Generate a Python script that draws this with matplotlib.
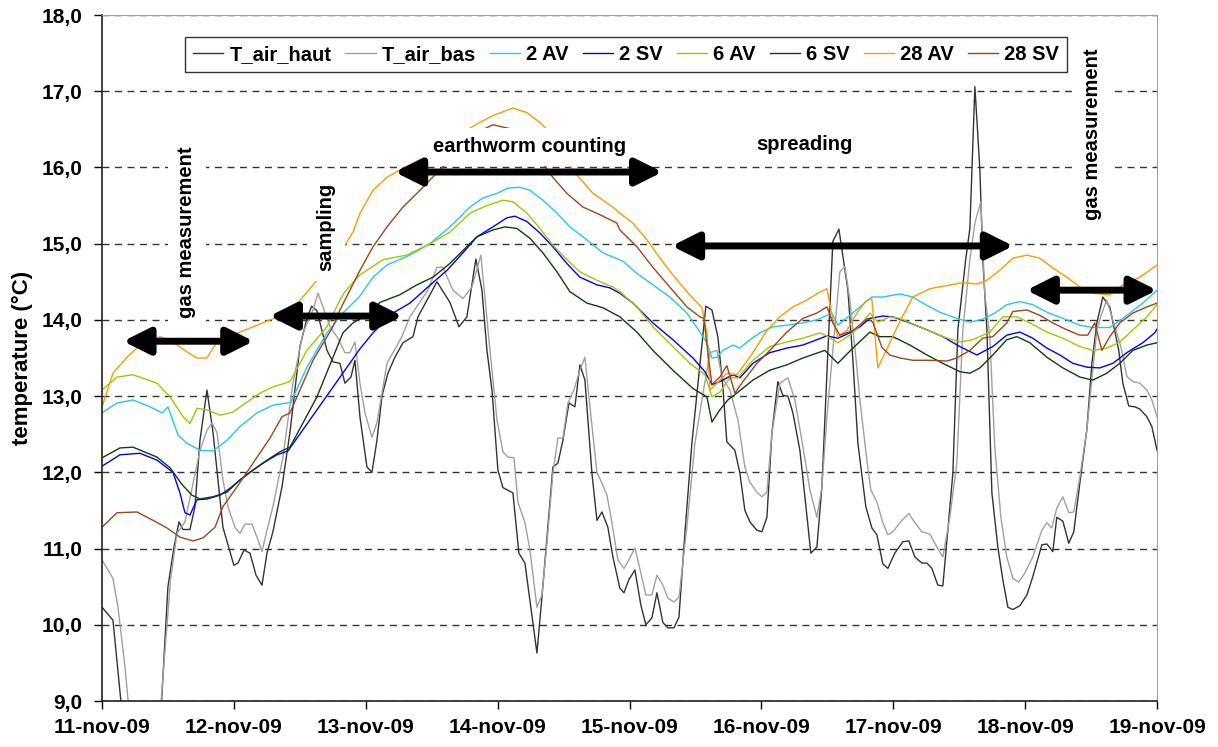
import matplotlib
matplotlib.use('Agg')
import matplotlib.pyplot as plt

plt.rcParams['font.family'] = ['Liberation Sans', 'DejaVu Sans']
plt.rcParams['font.weight'] = 'bold'

# x = days after 11-nov-09 00:00, y = temperature in degC
day_labels = ["11-nov-09", "12-nov-09", "13-nov-09", "14-nov-09", "15-nov-09",
              "16-nov-09", "17-nov-09", "18-nov-09", "19-nov-09"]

haut_t = [0, 0.083, 0.2, 0.42, 0.5, 0.546, 0.584, 0.614, 0.667, 0.705, 0.743, 0.796, 0.842, 0.917,
          1.0, 1.031, 1.077, 1.122, 1.168, 1.213, 1.251, 1.296, 1.365, 1.425, 1.501, 1.554, 1.59, 1.63,
          1.706, 1.751, 1.804, 1.842, 1.888, 1.918, 1.956, 2.009, 2.047, 2.085, 2.123, 2.168, 2.221,
          2.282, 2.358, 2.396, 2.54, 2.638, 2.707, 2.767, 2.835, 2.881, 2.919, 2.957, 3.002, 3.04,
          3.116, 3.161, 3.207, 3.298, 3.336, 3.374, 3.419, 3.457, 3.495, 3.541, 3.586, 3.624, 3.662,
          3.715, 3.753, 3.791, 3.836, 3.874, 3.927, 3.958, 3.995, 4.041, 4.086, 4.124, 4.17, 4.208,
          4.253, 4.291, 4.337, 4.375, 4.42, 4.473, 4.579, 4.625, 4.67, 4.708, 4.738, 4.799, 4.837,
          4.875, 4.913, 4.966, 5.004, 5.042, 5.08, 5.125, 5.163, 5.201, 5.239, 5.292, 5.33, 5.375,
          5.421, 5.459, 5.497, 5.542, 5.588, 5.656, 5.694, 5.732, 5.792, 5.838, 5.876, 5.921, 5.959,
          6.012, 6.073, 6.118, 6.164, 6.217, 6.255, 6.293, 6.338, 6.376, 6.414, 6.452, 6.49, 6.55,
          6.581, 6.619, 6.657, 6.679, 6.71, 6.748, 6.793, 6.831, 6.869, 6.907, 6.96, 7.013, 7.058,
          7.127, 7.165, 7.21, 7.24, 7.286, 7.331, 7.369, 7.415, 7.468, 7.506, 7.544, 7.589, 7.642,
          7.71, 7.741, 7.786, 7.832, 7.87, 7.923, 7.961, 8.0]
haut_v = [10.23, 10.06, 8.0, 8.0, 10.5, 11.02, 11.35, 11.25, 11.25, 11.55, 12.42, 13.08, 12.52, 11.28,
          10.78, 10.81, 10.98, 10.94, 10.65, 10.52, 10.94, 11.22, 11.81, 12.52, 13.65, 14.02, 14.18, 14.12,
          13.6, 13.45, 13.43, 13.17, 13.25, 13.47, 12.73, 12.07, 12.0, 12.42, 13.0, 13.3, 13.51,
          13.7, 13.78, 14.04, 14.5, 14.23, 13.91, 14.04, 14.8, 14.39, 13.6, 13.08, 12.03, 11.8,
          11.73, 10.94, 10.81, 9.63, 10.36, 11.15, 12.07, 12.12, 12.42, 12.91, 12.86, 13.41, 13.21,
          11.99, 11.37, 11.48, 11.28, 10.89, 10.48, 10.42, 10.59, 10.72, 10.26, 10.0, 10.09, 10.42,
          10.03, 9.96, 9.96, 10.1, 11.2, 12.38, 14.18, 14.13, 13.78, 13.12, 12.4, 12.29, 11.99,
          11.5, 11.35, 11.24, 11.22, 11.41, 12.52, 13.19, 13.01, 13.0, 12.78, 12.29, 11.68, 10.94,
          11.02, 11.81, 13.3, 15.03, 15.19, 14.39, 13.47, 12.38, 11.55, 11.27, 11.18, 10.8, 10.74,
          10.94, 11.09, 11.1, 10.89, 10.81, 10.81, 10.74, 10.52, 10.51, 11.24, 11.99, 13.87, 14.8,
          15.2, 17.06, 15.97, 14.79, 13.87, 11.73, 11.02, 10.59, 10.23, 10.2, 10.25, 10.39, 10.63,
          11.05, 11.06, 10.96, 11.41, 11.36, 11.07, 11.22, 11.86, 12.56, 13.43, 13.96, 14.3, 14.17,
          13.6, 13.17, 12.87, 12.86, 12.83, 12.73, 12.6, 12.29]

bas_t = [0, 0.083, 0.121, 0.174, 0.22, 0.43, 0.52, 0.569, 0.629, 0.743, 0.796, 0.834, 0.872, 0.917,
         0.955, 1.008, 1.046, 1.084, 1.137, 1.175, 1.213, 1.251, 1.296, 1.372, 1.448, 1.524, 1.6,
         1.638, 1.729, 1.789, 1.842, 1.88, 1.918, 1.956, 1.994, 2.047, 2.085, 2.123, 2.161, 2.206,
         2.274, 2.335, 2.472, 2.54, 2.585, 2.661, 2.737, 2.805, 2.873, 2.942, 2.995, 3.04, 3.078,
         3.124, 3.154, 3.207, 3.245, 3.298, 3.336, 3.374, 3.419, 3.457, 3.495, 3.533, 3.578, 3.624,
         3.662, 3.7, 3.753, 3.791, 3.829, 3.867, 3.912, 3.958, 3.995, 4.041, 4.086, 4.124, 4.17,
         4.208, 4.253, 4.291, 4.337, 4.375, 4.435, 4.496, 4.549, 4.61, 4.663, 4.701, 4.761, 4.822,
         4.875, 4.913, 4.966, 5.004, 5.042, 5.08, 5.14, 5.201, 5.254, 5.307, 5.368, 5.421, 5.459,
         5.497, 5.595, 5.633, 5.671, 5.724, 5.747, 5.8, 5.83, 5.876, 5.921, 5.959, 5.997, 6.065,
         6.118, 6.164, 6.217, 6.278, 6.331, 6.376, 6.429, 6.482, 6.528, 6.581, 6.619, 6.664, 6.694,
         6.732, 6.77, 6.816, 6.861, 6.907, 6.952, 6.998, 7.058, 7.127, 7.165, 7.202, 7.24, 7.286,
         7.331, 7.369, 7.415, 7.468, 7.513, 7.544, 7.582, 7.619, 7.665, 7.726, 7.771, 7.817, 7.87,
         7.923, 7.961, 8.0]
bas_v = [10.85, 10.61, 10.23, 9.45, 8.6, 8.6, 10.6, 11.2, 11.35, 12.29, 12.55, 12.65, 12.52, 11.9,
         11.55, 11.28, 11.2, 11.32, 11.32, 11.15, 10.96, 11.24, 11.55, 12.2, 13.17, 13.83, 14.13,
         14.35, 13.91, 13.76, 13.57, 13.57, 13.71, 13.17, 12.78, 12.46, 12.65, 13.04, 13.43, 13.57,
         13.78, 14.04, 14.39, 14.69, 14.69, 14.39, 14.28, 14.43, 14.85, 13.6, 12.69, 12.27, 12.2,
         12.19, 11.61, 11.34, 10.98, 10.23, 10.39, 11.07, 11.99, 12.45, 12.45, 12.91, 13.08, 13.34,
         13.51, 12.86, 12.0, 11.86, 11.7, 11.34, 10.85, 10.74, 10.85, 11.01, 10.68, 10.39, 10.39,
         10.65, 10.52, 10.35, 10.3, 10.36, 11.28, 12.38, 12.95, 13.57, 13.6, 13.25, 13.08, 12.69,
         12.07, 11.87, 11.74, 11.68, 11.74, 12.52, 13.17, 13.24, 12.95, 12.42, 11.77, 11.41, 11.81,
         12.73, 14.63, 14.7, 14.26, 13.38, 12.95, 12.16, 11.77, 11.61, 11.34, 11.18, 11.22, 11.37,
         11.46, 11.34, 11.22, 11.19, 11.02, 10.89, 11.41, 12.12, 13.87, 14.79, 15.27, 15.55, 14.35,
         13.78, 12.33, 11.41, 10.89, 10.61, 10.56, 10.68, 10.89, 11.24, 11.34, 11.27, 11.53, 11.68,
         11.47, 11.48, 11.94, 12.56, 13.34, 13.87, 14.09, 14.26, 14.0, 13.65, 13.26, 13.19, 13.17,
         13.08, 12.95, 12.73]

av2_t = [0, 0.114, 0.235, 0.364, 0.455, 0.5, 0.576, 0.644, 0.743, 0.842, 0.948, 1.046, 1.175, 1.296,
         1.403, 1.433, 1.554, 1.706, 1.827, 1.95, 2.055, 2.161, 2.335, 2.487, 2.638, 2.79, 2.889,
         2.995, 3.078, 3.169, 3.245, 3.343, 3.45, 3.548, 3.677, 3.798, 3.95, 4.056, 4.177, 4.306,
         4.435, 4.534, 4.587, 4.625, 4.663, 4.708, 4.784, 4.837, 4.913, 4.989, 5.087, 5.193, 5.315,
         5.421, 5.535, 5.58, 5.671, 5.747, 5.838, 5.921, 6.05, 6.149, 6.224, 6.353, 6.482, 6.581,
         6.679, 6.77, 6.861, 6.96, 7.058, 7.165, 7.286, 7.415, 7.513, 7.642, 7.741, 7.892, 8.0]
av2_v = [12.78, 12.91, 12.95, 12.86, 12.78, 12.86, 12.49, 12.38, 12.29, 12.28, 12.42, 12.6, 12.78, 12.88,
         12.91, 12.92, 13.38, 13.83, 14.09, 14.3, 14.56, 14.72, 14.85, 15.0, 15.22, 15.48, 15.6,
         15.66, 15.73, 15.74, 15.7, 15.57, 15.4, 15.22, 15.05, 14.88, 14.77, 14.61, 14.46, 14.3,
         14.09, 13.84, 13.7, 13.5, 13.51, 13.6, 13.67, 13.63, 13.74, 13.83, 13.91, 13.93, 13.96,
         14.0, 14.09, 13.93, 14.06, 14.17, 14.3, 14.3, 14.34, 14.3, 14.22, 14.1, 14.02, 13.97,
         14.01, 14.09, 14.2, 14.24, 14.2, 14.1, 14.02, 13.93, 13.9, 13.9, 14.02, 14.22, 14.39]

sv2_t = [0, 0.136, 0.288, 0.417, 0.538, 0.591, 0.629, 0.667, 0.72, 0.796, 0.895, 0.97, 1.046, 1.122,
         1.221, 1.327, 1.41, 1.956, 2.055, 2.206, 2.335, 2.464, 2.616, 2.737, 2.843, 2.964, 3.071,
         3.131, 3.222, 3.321, 3.419, 3.525, 3.624, 3.753, 3.851, 3.927, 4.026, 4.177, 4.329, 4.481,
         4.572, 4.625, 4.685, 4.784, 4.837, 4.936, 5.064, 5.193, 5.315, 5.421, 5.497, 5.58, 5.671,
         5.747, 5.823, 5.921, 5.997, 6.126, 6.255, 6.376, 6.505, 6.634, 6.755, 6.861, 6.96, 7.058,
         7.165, 7.263, 7.362, 7.468, 7.566, 7.665, 7.771, 7.892, 7.983, 8.0]
sv2_v = [12.08, 12.23, 12.25, 12.16, 12.0, 11.73, 11.47, 11.44, 11.64, 11.65, 11.7, 11.79, 11.9, 12.0,
         12.12, 12.23, 12.28, 13.62, 13.83, 14.09, 14.22, 14.42, 14.65, 14.88, 15.09, 15.22, 15.34,
         15.36, 15.29, 15.14, 14.96, 14.74, 14.56, 14.46, 14.42, 14.35, 14.22, 13.96, 13.74, 13.5,
         13.32, 13.15, 13.19, 13.28, 13.24, 13.43, 13.57, 13.63, 13.67, 13.74, 13.79, 13.76, 13.83,
         13.91, 14.02, 14.05, 14.04, 13.96, 13.87, 13.78, 13.65, 13.54, 13.65, 13.8, 13.84, 13.76,
         13.63, 13.54, 13.43, 13.38, 13.37, 13.43, 13.57, 13.7, 13.83, 13.88]

av6_t = [0, 0.114, 0.235, 0.417, 0.516, 0.614, 0.667, 0.72, 0.796, 0.895, 0.993, 1.099, 1.198, 1.296,
         1.425, 1.554, 1.706, 1.804, 1.842, 1.956, 2.13, 2.312, 2.487, 2.638, 2.79, 2.919, 3.04,
         3.116, 3.222, 3.321, 3.419, 3.525, 3.624, 3.753, 3.874, 3.927, 4.056, 4.177, 4.329, 4.458,
         4.572, 4.625, 4.685, 4.761, 4.822, 4.936, 5.064, 5.193, 5.315, 5.444, 5.504, 5.58, 5.671,
         5.747, 5.823, 5.883, 5.974, 6.05, 6.255, 6.376, 6.505, 6.603, 6.732, 6.831, 6.937, 7.036,
         7.165, 7.286, 7.415, 7.513, 7.619, 7.718, 7.817, 7.923, 8.0]
av6_v = [13.08, 13.25, 13.28, 13.17, 12.99, 12.73, 12.64, 12.84, 12.82, 12.75, 12.79, 12.92, 13.04, 13.12,
         13.19, 13.6, 13.91, 14.26, 14.37, 14.59, 14.79, 14.85, 15.0, 15.15, 15.4, 15.5, 15.57,
         15.55, 15.4, 15.2, 14.98, 14.79, 14.63, 14.52, 14.43, 14.37, 14.17, 13.91, 13.65, 13.43,
         13.28, 12.99, 13.05, 13.24, 13.24, 13.47, 13.65, 13.71, 13.76, 13.83, 13.78, 13.7, 13.8,
         13.93, 14.09, 13.97, 14.04, 14.02, 13.87, 13.78, 13.71, 13.74, 13.84, 14.04, 14.04, 13.96,
         13.84, 13.76, 13.65, 13.6, 13.63, 13.71, 13.87, 14.04, 14.2]

sv6_t = [0, 0.136, 0.235, 0.417, 0.516, 0.607, 0.682, 0.743, 0.842, 0.948, 1.046, 1.145, 1.251, 1.35,
         1.425, 1.63, 1.827, 1.903, 2.032, 2.108, 2.259, 2.388, 2.51, 2.638, 2.737, 2.843, 2.964,
         3.055, 3.146, 3.245, 3.343, 3.45, 3.548, 3.677, 3.798, 3.927, 4.056, 4.177, 4.329, 4.481,
         4.587, 4.625, 4.685, 4.746, 4.814, 4.936, 5.064, 5.193, 5.315, 5.481, 5.58, 5.694, 5.823,
         5.898, 5.997, 6.126, 6.255, 6.376, 6.505, 6.581, 6.657, 6.755, 6.861, 6.937, 7.036, 7.165,
         7.286, 7.415, 7.513, 7.619, 7.718, 7.817, 7.923, 8.0]
sv6_v = [12.19, 12.32, 12.33, 12.2, 12.06, 11.84, 11.7, 11.65, 11.68, 11.74, 11.9, 12.03, 12.16, 12.27,
         12.33, 12.99, 13.83, 13.96, 14.09, 14.23, 14.33, 14.46, 14.56, 14.74, 14.91, 15.09, 15.18,
         15.22, 15.2, 15.07, 14.88, 14.63, 14.37, 14.22, 14.16, 14.04, 13.84, 13.6, 13.34, 13.1,
         12.99, 12.66, 12.82, 12.95, 13.04, 13.21, 13.34, 13.41, 13.5, 13.6, 13.43, 13.63, 13.84,
         13.78, 13.78, 13.67, 13.54, 13.43, 13.32, 13.3, 13.37, 13.54, 13.74, 13.78, 13.7, 13.51,
         13.37, 13.25, 13.21, 13.3, 13.43, 13.6, 13.67, 13.7]

av28_t = [0, 0.083, 0.19, 0.288, 0.44, 0.538, 0.644, 0.72, 0.796, 0.872, 0.948, 1.046, 1.175, 1.274,
          1.365, 1.44, 1.63, 1.842, 1.903, 1.956, 2.055, 2.161, 2.282, 2.434, 2.737, 2.843, 2.964,
          3.116, 3.222, 3.321, 3.397, 3.571, 3.723, 3.874, 3.927, 4.026, 4.132, 4.231, 4.329, 4.435,
          4.549, 4.587, 4.61, 4.663, 4.738, 4.814, 4.913, 5.042, 5.14, 5.239, 5.345, 5.428, 5.497,
          5.542, 5.58, 5.648, 5.724, 5.8, 5.838, 5.883, 5.974, 6.05, 6.149, 6.278, 6.406, 6.528,
          6.634, 6.71, 6.808, 6.907, 7.013, 7.111, 7.21, 7.316, 7.415, 7.513, 7.642, 7.741, 7.87, 8.0]
av28_v = [12.86, 13.3, 13.51, 13.67, 13.78, 13.71, 13.58, 13.5, 13.5, 13.71, 13.78, 13.84, 13.93, 14.0,
          14.06, 14.13, 14.52, 14.98, 15.15, 15.4, 15.7, 15.87, 15.99, 16.12, 16.46, 16.57, 16.68,
          16.78, 16.72, 16.59, 16.46, 15.96, 15.66, 15.48, 15.4, 15.27, 15.05, 14.81, 14.59, 14.37,
          14.16, 13.83, 13.08, 13.17, 13.3, 13.28, 13.51, 13.86, 14.04, 14.17, 14.26, 14.35, 14.41,
          14.0, 13.78, 13.86, 14.09, 14.26, 14.27, 13.37, 13.7, 13.98, 14.3, 14.41, 14.45, 14.49,
          14.47, 14.52, 14.65, 14.81, 14.85, 14.81, 14.68, 14.56, 14.43, 14.35, 14.33, 14.46, 14.56, 14.72]

sv28_t = [0, 0.114, 0.265, 0.387, 0.493, 0.591, 0.69, 0.766, 0.857, 0.917, 1.024, 1.145, 1.274, 1.365,
          1.425, 1.6, 1.751, 1.804, 1.956, 2.055, 2.161, 2.282, 2.411, 2.54, 2.623, 2.881, 2.964,
          3.04, 3.146, 3.336, 3.419, 3.525, 3.647, 3.776, 3.904, 3.927, 4.056, 4.177, 4.306, 4.435,
          4.534, 4.564, 4.594, 4.625, 4.685, 4.738, 4.799, 4.86, 4.966, 5.064, 5.193, 5.315, 5.421,
          5.497, 5.542, 5.595, 5.694, 5.807, 5.845, 5.914, 5.974, 6.05, 6.149, 6.278, 6.406, 6.482,
          6.581, 6.679, 6.755, 6.861, 6.907, 7.013, 7.111, 7.21, 7.316, 7.415, 7.475, 7.528, 7.582,
          7.642, 7.718, 7.817, 7.923, 8.0]
sv28_v = [11.28, 11.47, 11.48, 11.37, 11.27, 11.15, 11.1, 11.14, 11.28, 11.55, 11.81, 12.12, 12.45, 12.73,
          12.78, 13.47, 13.91, 14.13, 14.65, 14.96, 15.22, 15.48, 15.7, 15.93, 16.07, 16.49, 16.56,
          16.53, 16.49, 16.07, 15.87, 15.66, 15.48, 15.38, 15.27, 15.18, 14.96, 14.69, 14.43, 14.17,
          14.04, 14.02, 13.57, 13.15, 13.25, 13.4, 13.04, 13.19, 13.43, 13.6, 13.84, 14.02, 14.09,
          14.17, 13.96, 13.8, 13.86, 14.02, 13.97, 13.64, 13.54, 13.5, 13.47, 13.47, 13.46, 13.5,
          13.6, 13.76, 13.78, 13.96, 14.11, 14.13, 14.06, 13.96, 13.87, 13.8, 13.8, 13.96, 13.6,
          13.78, 13.96, 14.09, 14.17, 14.22]

series = [
    ("T_air_haut", haut_t, haut_v, "#333333"),
    ("T_air_bas", bas_t, bas_v, "#a0a0a0"),
    ("2 AV", av2_t, av2_v, "#26c6f2"),
    ("2 SV", sv2_t, sv2_v, "#0000ff"),
    ("6 AV", av6_t, av6_v, "#99cc00"),
    ("6 SV", sv6_t, sv6_v, "#0b400b"),
    ("28 AV", av28_t, av28_v, "#ff9900"),
    ("28 SV", sv28_t, sv28_v, "#a0441a"),
]

# periods: (label, start, end, arrow level, text x, text y, rotated)
periods = [
    ("gas measurement", 0.16, 1.15, 13.72, 0.644, 15.15, True),
    ("sampling", 1.27, 2.28, 14.05, 1.70, 15.22, True),
    ("earthworm counting", 2.22, 4.25, 15.94, 3.245, 16.27, False),
    ("spreading", 4.32, 6.91, 14.97, 5.33, 16.3, False),
    ("gas measurement", 7.01, 8.0, 14.39, 7.51, 16.44, True),
]

fig = plt.figure(figsize=(12.18, 7.47), dpi=100)
ax = fig.add_axes([102 / 1218, 1 - 701 / 747, 1055 / 1218, 686 / 747])

for name, t, v, c in series:
    ax.plot(t, v, color=c, lw=1.0, label=name, zorder=2)

for label, x0, x1, y, tx, ty, rot in periods:
    ax.annotate('', xy=(x1, y), xytext=(x0, y),
                arrowprops=dict(arrowstyle='<|-|>,head_length=0.8,head_width=0.4',
                                lw=5, color='black', shrinkA=0, shrinkB=0,
                                mutation_scale=20), zorder=5)
    ax.text(tx, ty, label, rotation=90 if rot else 0, ha='center', va='center',
            fontsize=14.5, fontweight='bold', zorder=4,
            bbox=dict(facecolor='white', edgecolor='none', pad=7))

ax.set_xlim(0, 8)
ax.set_ylim(9, 18)
ax.set_xticks(range(9))
ax.set_xticklabels(day_labels)
ax.set_yticks(range(9, 19))
ax.set_yticklabels([f"{v:.1f}".replace('.', ',') for v in range(9, 19)])
ax.tick_params(axis='both', direction='out', length=6, width=1, labelsize=15, pad=6)
ax.tick_params(axis='y', pad=8)
for lab in ax.get_xticklabels() + ax.get_yticklabels():
    lab.set_fontweight('bold')

ax.yaxis.grid(True, linestyle=(0, (5, 4)), color='#333333', lw=1)
ax.set_axisbelow(True)
for s in ['top', 'right']:
    ax.spines[s].set_color('#a0a0a0')
for s in ['left', 'bottom']:
    ax.spines[s].set_color('#202020')
    ax.spines[s].set_linewidth(1.2)

ax.set_ylabel("temperature (°C)", fontsize=16, fontweight='bold', labelpad=6)

leg = ax.legend(ncol=8, loc='upper left', bbox_to_anchor=(0.0787, 0.968), borderaxespad=0,
                fontsize=14.5, handlelength=1.5, handletextpad=0.3, columnspacing=0.7,
                frameon=True, fancybox=False, edgecolor='black', borderpad=0.4)
leg.get_frame().set_linewidth(1)
for txt in leg.get_texts():
    txt.set_fontweight('bold')

fig.savefig("out.png", dpi=100)
